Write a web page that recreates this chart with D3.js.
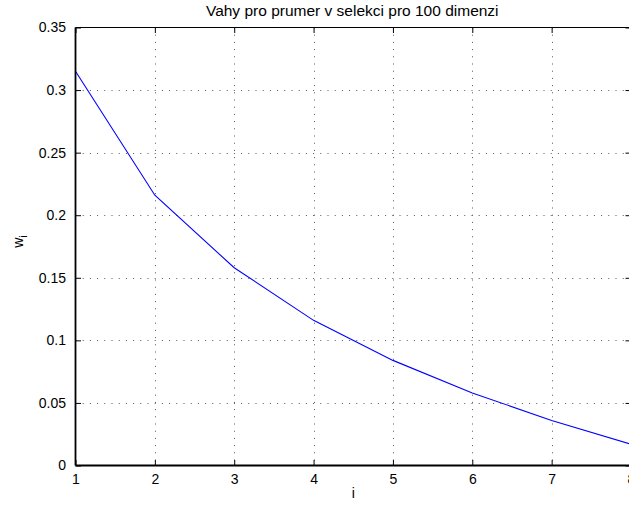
<!DOCTYPE html>
<html>
<head>
<meta charset="utf-8">
<script src="https://cdn.jsdelivr.net/npm/d3@7"></script>
<style>
  html, body { margin: 0; padding: 0; background: #fff; }
  svg { display: block; font-family: "Liberation Sans", Arial, Helvetica, sans-serif; }
</style>
</head>
<body>
<svg id="chart" width="629" height="510"></svg>
<script>
// Recombination weights per rank i
const indices = [1, 2, 3, 4, 5, 6, 7, 8];
const weights = [0.315, 0.216, 0.158, 0.116, 0.084, 0.058, 0.036, 0.017];
const xTicks = [1, 2, 3, 4, 5, 6, 7, 8];
const yTicks = [0, 0.05, 0.1, 0.15, 0.2, 0.25, 0.3, 0.35];
const titleText = "Vahy pro prumer v selekci pro 100 dimenzi";

const svg = d3.select("#chart");
const margin = { left: 75.5, right: 631, top: 27.5, bottom: 465.5 };

const x = d3.scaleLinear().domain([1, 8]).range([margin.left, margin.right]);
const y = d3.scaleLinear().domain([0, 0.35]).range([margin.bottom, margin.top]);

const fmtY = d => d === 0 ? "0" : String(+d.toFixed(2));

// dotted grid
const grid = svg.append("g").attr("class", "grid");
grid.selectAll("line.gx").data(xTicks.slice(1, -1)).join("line")
  .attr("x1", d => Math.round(x(d)) + 0.5).attr("x2", d => Math.round(x(d)) + 0.5)
  .attr("y1", margin.top).attr("y2", margin.bottom)
  .attr("stroke", "#555").attr("stroke-width", 1).attr("stroke-dasharray", "1,6.2");
grid.selectAll("line.gy").data(yTicks.slice(1, -1)).join("line")
  .attr("y1", d => Math.round(y(d)) + 0.5).attr("y2", d => Math.round(y(d)) + 0.5)
  .attr("x1", margin.left).attr("x2", margin.right)
  .attr("stroke", "#555").attr("stroke-width", 1).attr("stroke-dasharray", "1,6.2");

// data line
const line = d3.line().x((d, i) => x(indices[i])).y(d => y(d));
svg.append("path").datum(weights)
  .attr("d", line)
  .attr("fill", "none").attr("stroke", "#0000ff").attr("stroke-width", 1.1);

// axes with inward ticks on all four sides
const tickLen = 5.5;
const bottomAxis = d3.axisBottom(x).tickValues(xTicks).tickSize(-tickLen).tickPadding(tickLen + 3).tickFormat(d3.format("d"));
const leftAxis = d3.axisLeft(y).tickValues(yTicks).tickSize(-tickLen).tickPadding(tickLen + 4).tickFormat(fmtY);
const topAxis = d3.axisTop(x).tickValues(xTicks).tickSize(-tickLen).tickFormat("");
const rightAxis = d3.axisRight(y).tickValues(yTicks).tickSize(-tickLen).tickFormat("");

function styleAxis(g, w) {
  g.select(".domain").attr("stroke", "#000").attr("stroke-width", w);
  g.selectAll(".tick line").attr("stroke", "#000").attr("stroke-width", 1);
  g.selectAll(".tick text").attr("fill", "#000").attr("font-size", "14px");
}

svg.append("g").attr("transform", `translate(0,${margin.top})`).call(topAxis)
  .call(g => styleAxis(g, 1.2)).call(g => g.select(".domain").attr("d", `M${margin.left},0H${margin.right}`));
svg.append("g").attr("transform", `translate(${margin.right},0)`).call(rightAxis)
  .call(g => styleAxis(g, 1.2)).call(g => g.select(".domain").attr("d", `M0,${margin.top}V${margin.bottom}`));
svg.append("g").attr("transform", `translate(0,${margin.bottom})`).call(bottomAxis)
  .call(g => styleAxis(g, 1.8)).call(g => g.select(".domain").attr("d", `M${margin.left},0H${margin.right}`));
svg.append("g").attr("transform", `translate(${margin.left},0)`).call(leftAxis)
  .call(g => styleAxis(g, 1.8)).call(g => g.select(".domain").attr("d", `M0,${margin.top}V${margin.bottom}`));

// title
svg.append("text")
  .attr("x", (margin.left + margin.right) / 2 - 1).attr("y", 16)
  .attr("text-anchor", "middle").attr("font-size", "15.5px").attr("fill", "#000")
  .text(titleText);

// x label
svg.append("text")
  .attr("x", (margin.left + margin.right) / 2).attr("y", 498)
  .attr("text-anchor", "middle").attr("font-size", "14px").attr("fill", "#000")
  .text("i");

// y label: w with subscript i
const yl = svg.append("text")
  .attr("transform", `translate(23,${(margin.top + margin.bottom) / 2 - 5}) rotate(-90)`)
  .attr("text-anchor", "middle").attr("font-size", "14px").attr("fill", "#000");
yl.append("tspan").text("w");
yl.append("tspan").attr("dy", 4).attr("font-size", "11px").text("i");
</script>
</body>
</html>
